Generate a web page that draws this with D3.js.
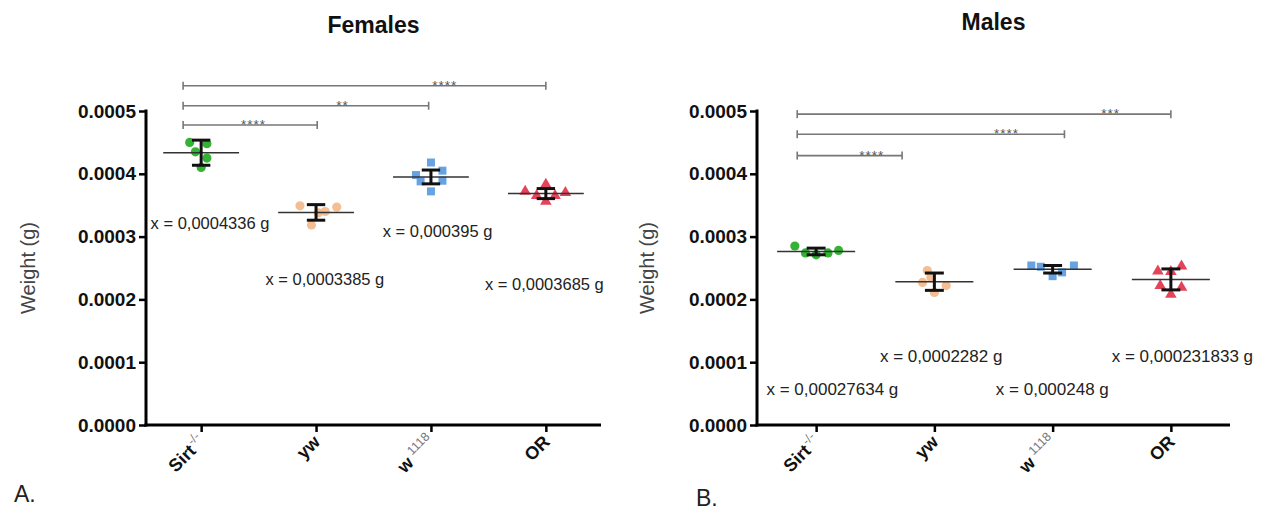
<!DOCTYPE html>
<html>
<head>
<meta charset="utf-8">
<script src="https://cdn.jsdelivr.net/npm/d3@7"></script>
<style>
  body { margin: 0; background: #fff; }
  svg { display: block; font-family: "Liberation Sans", Arial, Helvetica, sans-serif; }
</style>
</head>
<body>
<svg id="chart" width="1271" height="517"></svg>
<script>
// ---- Data ----------------------------------------------------------------
const categories   = ["Sirt", "yw", "w", "OR"];
const categorySup  = ["-/-", "", "1118", ""];
const yTickValues  = [0, 0.0001, 0.0002, 0.0003, 0.0004, 0.0005];

// Individual fly weights (g), females
const femaleSirt  = [0.000450, 0.000448, 0.000435, 0.000425, 0.000410];
const femaleYw    = [0.000349, 0.000347, 0.000340, 0.000338, 0.0003185];
const femaleW1118 = [0.000418, 0.000398, 0.000405, 0.000389, 0.000388, 0.000372];
const femaleOR    = [0.000372, 0.000383, 0.000370, 0.000365, 0.000356, 0.000365];

// Individual fly weights (g), males
const maleSirt  = [0.000285, 0.000271, 0.000274, 0.000278, 0.000274];
const maleYw    = [0.000246, 0.000227, 0.000222, 0.000211, 0.000235];
const maleW1118 = [0.000254, 0.000252, 0.000254, 0.000237, 0.000243];
const maleOR    = [0.000245, 0.000253, 0.000222, 0.000219, 0.000208, 0.000244];

// Group means (as labelled) and SD half-widths of the error bars
const femaleMeans = [0.0004336, 0.0003385, 0.000395, 0.0003685];
const femaleSD    = [0.0000200, 0.0000124, 0.0000110, 0.0000080];
const maleMeans   = [0.00027634, 0.0002282, 0.000248, 0.000231833];
const maleSD      = [0.0000053, 0.0000138, 0.0000060, 0.0000167];

const femaleMeanText = ["x = 0,0004336 g", "x = 0,0003385 g", "x = 0,000395 g", "x = 0,0003685 g"];
const maleMeanText   = ["x = 0,00027634 g", "x = 0,0002282 g", "x = 0,000248 g", "x = 0,000231833 g"];

// Pairwise comparisons against Sirt-/-
const femaleComparisons = [
  { from: 0, to: 1, stars: "****" },
  { from: 0, to: 2, stars: "**" },
  { from: 0, to: 3, stars: "****" }
];
const maleComparisons = [
  { from: 0, to: 1, stars: "****" },
  { from: 0, to: 2, stars: "****" },
  { from: 0, to: 3, stars: "***" }
];

// ---- Appearance ----------------------------------------------------------
const groupColors  = ["#22ab22", "#f2b98a", "#5a9be0", "#e2344c"];
const groupSymbols = [d3.symbolCircle, d3.symbolCircle, d3.symbolSquare, d3.symbolTriangle];
const symbolSizes  = [66, 66, 64, 58];

const svg = d3.select("#chart");

function drawPanel(cfg) {
  const g = svg.append("g");
  const x = d3.scaleLinear().domain(cfg.xDomain).range(cfg.xRange);
  const y = d3.scaleLinear().domain([0, 0.0005]).range([425, 111]);
  const xLeft = cfg.xRange[0], xRight = cfg.xRange[1];

  // Title
  g.append("text")
    .attr("x", (xLeft + xRight) / 2).attr("y", cfg.titleY)
    .attr("text-anchor", "middle")
    .attr("font-weight", "bold").attr("font-size", 23).attr("fill", "#111")
    .text(cfg.title);

  // Y axis
  const yAxis = d3.axisLeft(y).tickValues(yTickValues)
    .tickFormat(d3.format(".4f")).tickSize(7).tickSizeOuter(0).tickPadding(3);
  const ya = g.append("g").attr("transform", `translate(${xLeft},0)`).call(yAxis);
  ya.select(".domain").attr("stroke", "#000").attr("stroke-width", 3)
    .attr("d", `M0,${y(0.0005) - 1.5}V${y(0) + 1.5}`);
  ya.selectAll(".tick line").attr("stroke", "#000").attr("stroke-width", 2.5);
  ya.selectAll(".tick text").attr("font-size", 19).attr("font-weight", "bold")
    .attr("fill", "#111").attr("font-family", "Liberation Sans, Arial, sans-serif");

  // Y axis title
  g.append("text")
    .attr("transform", `translate(${cfg.yTitleX},${(y(0) + y(0.0005)) / 2}) rotate(-90)`)
    .attr("text-anchor", "middle").attr("dy", "0.35em")
    .attr("font-size", 20).attr("fill", "#444")
    .text("Weight (g)");

  // X axis
  const xAxis = d3.axisBottom(x).tickValues([0, 1, 2, 3]).tickFormat("")
    .tickSize(7).tickSizeOuter(0);
  const xa = g.append("g").attr("transform", `translate(0,${y(0)})`).call(xAxis);
  xa.select(".domain").attr("stroke", "#000").attr("stroke-width", 3)
    .attr("d", `M${xLeft - 1.5},0H${xRight}`);
  xa.selectAll(".tick line").attr("stroke", "#000").attr("stroke-width", 2.5);

  // Rotated category labels
  categories.forEach((c, i) => {
    const t = g.append("text")
      .attr("transform", `translate(${x(i) + 5},${y(0) + 18}) rotate(-45)`)
      .attr("text-anchor", "end")
      .attr("font-size", 18).attr("font-weight", "bold").attr("fill", "#111");
    t.append("tspan").text(c);
    if (categorySup[i]) {
      t.append("tspan").attr("dx", c === "w" ? 4 : 1).attr("dy", -8)
        .attr("font-size", 12.5).attr("font-weight", "normal").attr("fill", "#777")
        .text(categorySup[i]);
    }
  });

  // Individual points
  cfg.series.forEach((vals, i) => {
    const sym = d3.symbol().type(groupSymbols[i]).size(symbolSizes[i]);
    g.append("g").selectAll("path").data(vals).join("path")
      .attr("d", sym)
      .attr("transform", (d, k) => `translate(${x(i + cfg.jitter[i][k])},${y(d)})`)
      .attr("fill", groupColors[i]).attr("fill-opacity", 0.92);
  });

  // Mean lines
  g.append("g").selectAll("line").data(cfg.means).join("line")
    .attr("x1", (d, i) => x(i - cfg.meanHalf)).attr("x2", (d, i) => x(i + cfg.meanHalf))
    .attr("y1", d => y(d)).attr("y2", d => y(d))
    .attr("stroke", "#333").attr("stroke-width", 1.5);

  // Error bars (mean ± SD)
  const eb = g.append("g").attr("stroke", "#111").attr("stroke-width", 3);
  cfg.means.forEach((m, i) => {
    const lo = y(m - cfg.sd[i]), hi = y(m + cfg.sd[i]);
    eb.append("line").attr("x1", x(i)).attr("x2", x(i)).attr("y1", hi).attr("y2", lo);
    eb.append("line").attr("x1", x(i - cfg.capHalf)).attr("x2", x(i + cfg.capHalf)).attr("y1", hi).attr("y2", hi);
    eb.append("line").attr("x1", x(i - cfg.capHalf)).attr("x2", x(i + cfg.capHalf)).attr("y1", lo).attr("y2", lo);
  });

  // Mean value labels
  cfg.meanText.forEach((txt, i) => {
    g.append("text")
      .attr("x", x(cfg.labelPos[i][0])).attr("y", y(cfg.labelPos[i][1]))
      .attr("font-size", cfg.labelSize).attr("fill", "#222")
      .text(txt);
  });

  // Significance brackets
  const br = g.append("g");
  cfg.comparisons.forEach((c, k) => {
    const yy = y(cfg.bracketLevels[k]);
    const x1 = x(c.from + cfg.bracketStart), x2 = x(c.to + cfg.bracketEnd[k]);
    br.append("line").attr("x1", x1).attr("x2", x2).attr("y1", yy).attr("y2", yy)
      .attr("stroke", "#777").attr("stroke-width", 1.6);
    [x1, x2].forEach(xx => br.append("line")
      .attr("x1", xx).attr("x2", xx).attr("y1", yy - 4).attr("y2", yy + 4)
      .attr("stroke", "#777").attr("stroke-width", 1.6));
    br.append("text")
      .attr("x", x(cfg.starAt[k])).attr("y", yy + 4)
      .attr("text-anchor", "middle").attr("font-size", 13.5)
      .attr("letter-spacing", 1).attr("fill", "#555")
      .text(c.stars);
  });

  // Panel letter
  g.append("text").attr("x", cfg.letterX).attr("y", cfg.letterY)
    .attr("font-size", 23).attr("fill", "#222").text(cfg.letter);
}

drawPanel({
  title: "Females", titleY: 33, letter: "A.", letterX: 14, letterY: 502,
  xDomain: [-0.48, 3.48], xRange: [146, 601], yTitleX: 28, labelSize: 16.5,
  series: [femaleSirt, femaleYw, femaleW1118, femaleOR],
  jitter: [
    [-0.10, 0.05, -0.05, 0.05, 0.00],
    [-0.14, 0.18, 0.08, 0.02, -0.04],
    [0.00, -0.13, 0.10, 0.10, -0.09, 0.00],
    [-0.18, 0.00, 0.17, -0.08, 0.00, 0.08]
  ],
  means: femaleMeans, sd: femaleSD, meanHalf: 0.33, capHalf: 0.08,
  meanText: femaleMeanText,
  labelPos: [[-0.44, 0.0003127], [0.56, 0.0002222], [1.58, 0.0002989], [2.47, 0.0002143]],
  comparisons: femaleComparisons,
  bracketLevels: [0.0004778, 0.0005084, 0.0005402],
  bracketStart: -0.157, bracketEnd: [0.01, -0.02, 0.0],
  starAt: [0.455, 1.23, 2.12]
});

drawPanel({
  title: "Males", titleY: 30, letter: "B.", letterX: 696, letterY: 506,
  xDomain: [-0.5, 3.5], xRange: [757, 1230], yTitleX: 647, labelSize: 17,
  series: [maleSirt, maleYw, maleW1118, maleOR],
  jitter: [
    [-0.18, 0.00, 0.10, 0.19, -0.09],
    [-0.06, -0.10, 0.10, 0.00, -0.03],
    [-0.18, -0.10, 0.18, 0.00, 0.08],
    [-0.11, 0.09, -0.09, 0.09, 0.00, 0.00]
  ],
  means: maleMeans, sd: maleSD, meanHalf: 0.33, capHalf: 0.08,
  meanText: maleMeanText,
  labelPos: [[-0.42, 0.0000476], [0.54, 0.0001], [1.52, 0.0000476], [2.50, 0.0001]],
  comparisons: maleComparisons,
  bracketLevels: [0.000429, 0.000463, 0.000495],
  bracketStart: -0.16, bracketEnd: [-0.273, 0.10, 0.0],
  starAt: [0.47, 1.61, 2.49]
});
</script>
</body>
</html>
